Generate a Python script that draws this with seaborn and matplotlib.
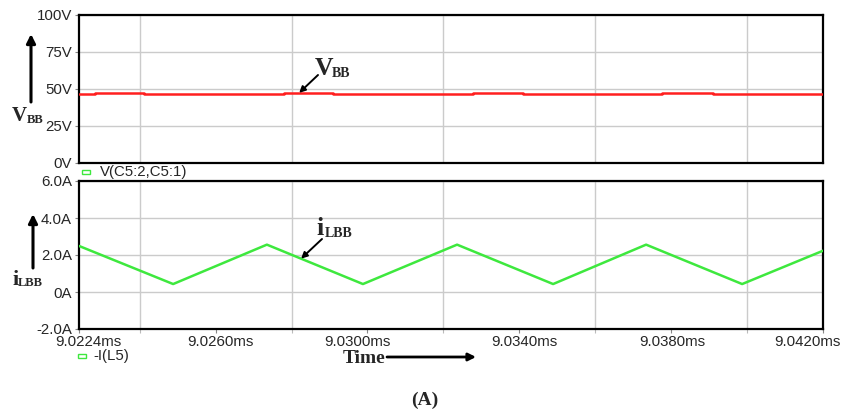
import numpy as np
import pandas as pd
import seaborn as sns
import matplotlib
matplotlib.use("Agg")
import matplotlib.pyplot as plt
from matplotlib.patches import Rectangle
from matplotlib.transforms import ScaledTranslation

# ---- data -------------------------------------------------------------
# capacitor voltage V(C5:2,C5:1): small stepped ripple around 46-47 V
t_v = [9.0224, 9.02282, 9.02411, 9.02780, 9.02909, 9.03278, 9.03410,
       9.03776, 9.03910, 9.0420]
v_bb = [46.4, 47.1, 46.4, 47.1, 46.4, 47.1, 46.4, 47.1, 46.4, 46.4]

# inductor current -I(L5): triangular ripple
t_i = [9.0224, 9.02488, 9.02735, 9.02988, 9.03236, 9.03489, 9.03734,
       9.03987, 9.0420]
i_lbb = [2.49, 0.43, 2.56, 0.43, 2.56, 0.43, 2.56, 0.43, 2.23]

time_ticks = [9.0224, 9.0260, 9.0300, 9.0340, 9.0380, 9.0420]
time_labels = ["9.0224ms", "9.0260ms", "9.0300ms", "9.0340ms", "9.0380ms", "9.0420ms"]
time_grid = [9.024, 9.026, 9.028, 9.030, 9.032, 9.034, 9.036, 9.038, 9.040, 9.042]
volt_ticks = [0, 25, 50, 75, 100]
volt_labels = ["0V", "25V", "50V", "75V", "100V"]
amp_ticks = [-2, 0, 2, 4, 6]
amp_labels = ["-2.0A", "0A", "2.0A", "4.0A", "6.0A"]

RED = "#ff1f1f"
GREEN = "#3ee83e"
GRID = "#cbcbcb"

df_v = pd.DataFrame({"t": t_v, "v": v_bb})
df_i = pd.DataFrame({"t": t_i, "i": i_lbb})

# ---- layout -----------------------------------------------------------
sns.set_style("white")
plt.rcParams["font.family"] = ["Liberation Sans", "DejaVu Sans"]

W, H = 855, 412
fig = plt.figure(figsize=(W / 100, H / 100), dpi=100)


def box(l, t, r, b):
    return [l / W, 1 - b / H, (r - l) / W, (b - t) / H]


def fpos(x, y):
    return (x / W, 1 - y / H)


ax_v = fig.add_axes(box(79, 15, 823, 163))
ax_i = fig.add_axes(box(79, 181, 823, 329))

sns.lineplot(data=df_v, x="t", y="v", ax=ax_v, color=RED, lw=1.8,
             drawstyle="steps-post", estimator=None, zorder=3)
sns.lineplot(data=df_i, x="t", y="i", ax=ax_i, color=GREEN, lw=1.8,
             estimator=None, zorder=3)

for ax in (ax_v, ax_i):
    ax.set_xlim(time_ticks[0], time_ticks[-1])
    ax.set_xlabel("")
    ax.set_ylabel("")
    ax.set_xticks(time_grid, minor=True)
    ax.grid(False)
    ax.grid(True, axis="x", which="minor", color=GRID, lw=1.0, zorder=0)
    ax.grid(True, axis="y", which="major", color=GRID, lw=1.0, zorder=0)
    for s in ax.spines.values():
        s.set_visible(True)
        s.set_color("black")
        s.set_linewidth(1.6)
    ax.tick_params(axis="y", which="major", direction="out", length=3,
                   width=0.8, color="#888888", pad=2, labelsize=10.8,
                   left=True)
    ax.set_axisbelow(True)

ax_v.set_ylim(0, 100)
ax_v.set_yticks(volt_ticks, volt_labels)
ax_v.set_xticks(time_ticks, [""] * len(time_ticks))
ax_v.tick_params(axis="x", which="both", length=0, bottom=False)

ax_i.set_ylim(-2, 6)
ax_i.set_yticks(amp_ticks, amp_labels)
ax_i.set_xticks(time_ticks, time_labels)
ax_i.tick_params(axis="x", which="major", direction="out", length=3,
                 width=0.8, color="#888888", pad=1, labelsize=10.8,
                 bottom=True)
ax_i.tick_params(axis="x", which="minor", direction="out", length=3,
                 width=0.8, color="#bbbbbb", bottom=True)

# nudge the time labels the way the simulator lays them out
shifts = [9, 5, -10, 5, 1, -16]
for lab, dx in zip(ax_i.get_xticklabels(), shifts):
    lab.set_transform(lab.get_transform() + ScaledTranslation(dx / 100, 0, fig.dpi_scale_trans))

# ---- trace legends below each plot -----------------------------------
fig.add_artist(Rectangle(fpos(82, 174), 8 / W, 4 / H, transform=fig.transFigure,
                         fill=False, ec=GREEN, lw=1.0))
fig.text(*fpos(100, 172), "V(C5:2,C5:1)", va="center", ha="left", fontsize=10.8)
fig.add_artist(Rectangle(fpos(78, 358), 8 / W, 4 / H, transform=fig.transFigure,
                         fill=False, ec=GREEN, lw=1.0))
fig.text(*fpos(93, 356), "-I(L5)", va="center", ha="left", fontsize=10.8)

# ---- annotations -------------------------------------------------------
SERIF = ["Liberation Serif", "DejaVu Serif"]


def sub_label(x, y, main, sub, size_main, size_sub, x_sub, y_sub):
    fig.text(*fpos(x, y), main, ha="left", va="baseline", fontsize=size_main,
             fontweight="bold", family=SERIF)
    fig.text(*fpos(x_sub, y_sub), sub, ha="left", va="baseline", fontsize=size_sub,
             fontweight="bold", family=SERIF)


arrow_kw = dict(arrowstyle="-|>", color="black", lw=1.4, shrinkA=0, shrinkB=0,
                mutation_scale=9)

# V_BB pointer on the voltage trace
t_tip_v = 9.0282
v_tip = v_bb[int(np.searchsorted(t_v, t_tip_v, side="right")) - 1] + 0.3
ax_v.annotate("", xy=(t_tip_v, v_tip), xycoords="data",
              xytext=(318, H - 75), textcoords="figure pixels",
              arrowprops=arrow_kw, annotation_clip=False)
sub_label(315, 75, "V", "BB", 18.5, 10, 332, 77)

# i_LBB pointer on the current trace
t_tip_i = 9.02825
i_tip = float(np.interp(t_tip_i, t_i, i_lbb))
ax_i.annotate("", xy=(t_tip_i, i_tip), xycoords="data",
              xytext=(322, H - 239), textcoords="figure pixels",
              arrowprops=arrow_kw, annotation_clip=False)
sub_label(316, 235, "i", "LBB", 18.5, 10, 325, 237)

# axis quantity labels with upward arrows
big_arrow = dict(arrowstyle="-|>", color="black", lw=2.2, shrinkA=0, shrinkB=0,
                 mutation_scale=13)
ax_v.annotate("", xy=(31, H - 34), xycoords="figure pixels",
              xytext=(31, H - 102), textcoords="figure pixels",
              arrowprops=big_arrow, annotation_clip=False)
sub_label(12, 121, "V", "BB", 15, 9, 27, 123)

ax_i.annotate("", xy=(33, H - 214), xycoords="figure pixels",
              xytext=(33, H - 268), textcoords="figure pixels",
              arrowprops=big_arrow, annotation_clip=False)
sub_label(12, 285, "i", "LBB", 16, 9, 18, 286)

# time axis caption
fig.text(*fpos(343, 363), "Time", ha="left", va="baseline", fontsize=14,
         fontweight="bold", family=SERIF)
ax_i.annotate("", xy=(476, H - 357), xycoords="figure pixels",
              xytext=(387, H - 357), textcoords="figure pixels",
              arrowprops=dict(arrowstyle="-|>", color="black", lw=2.0, shrinkA=0,
                              shrinkB=0, mutation_scale=11),
              annotation_clip=False)

fig.text(*fpos(425, 400), "(A)", ha="center", va="center", fontsize=14,
         fontweight="bold", family=SERIF)

fig.savefig("out.png", dpi=100, facecolor="white")
